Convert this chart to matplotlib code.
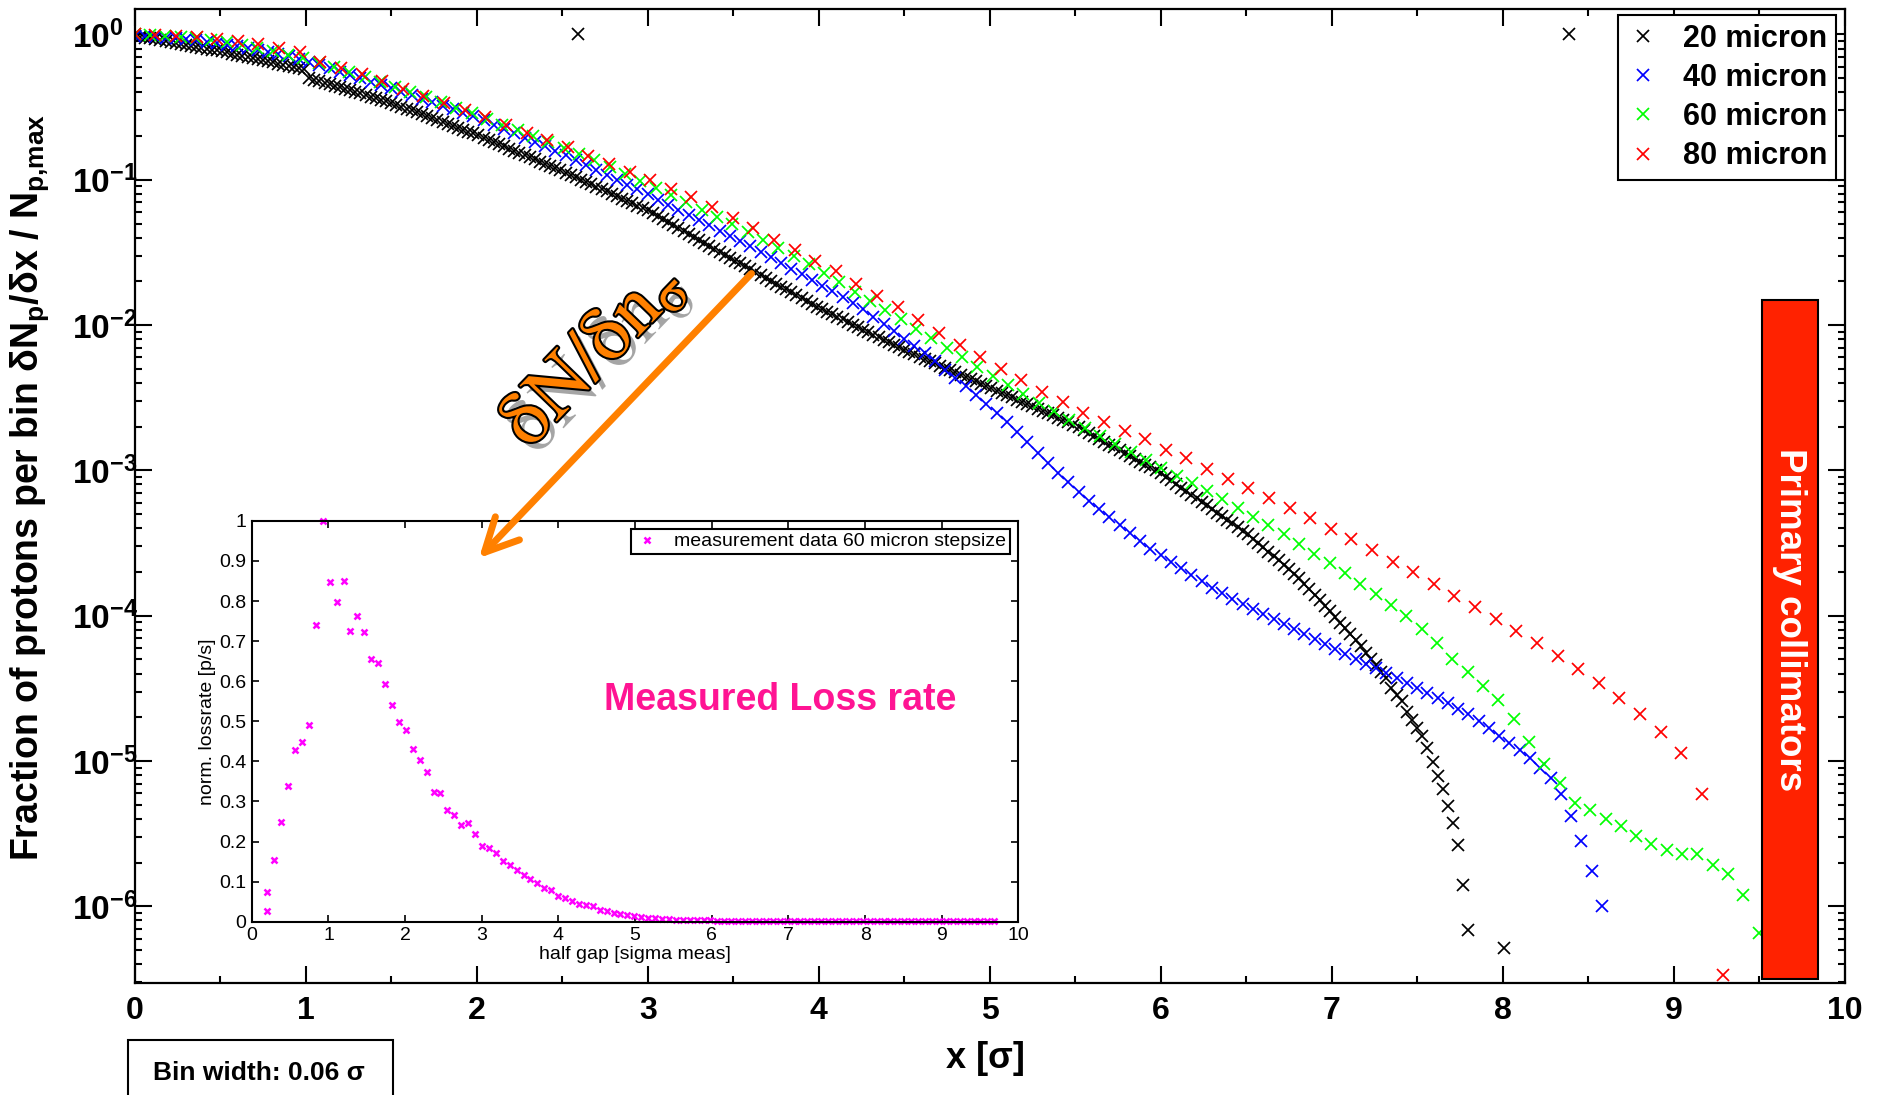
import numpy as np
import matplotlib
matplotlib.use('Agg')
import matplotlib.pyplot as plt
import matplotlib.patheffects as pe
from matplotlib.patches import Rectangle, FancyArrowPatch
from matplotlib.ticker import MultipleLocator, LogLocator, NullFormatter, FuncFormatter

plt.rcParams['font.family'] = ['Liberation Sans', 'DejaVu Sans']
plt.rcParams['mathtext.fontset'] = 'custom'
plt.rcParams['mathtext.rm'] = 'Liberation Sans'
plt.rcParams['mathtext.bf'] = 'Liberation Sans:bold'
plt.rcParams['mathtext.it'] = 'Liberation Sans:italic'

# bin steps (in sigma) of the four scans
step_20, step_40, step_60, step_80 = 0.03, 0.06, 0.0896, 0.1206

# log10 of the normalised bin content
log_20 = [
    -0.010, -0.016, -0.021, -0.027, -0.033, -0.039, -0.045, -0.051, -0.058, -0.064,
    -0.070, -0.077, -0.083, -0.090, -0.097, -0.104, -0.110, -0.117, -0.124, -0.131,
    -0.139, -0.146, -0.153, -0.161, -0.168, -0.176, -0.184, -0.192, -0.200, -0.208,
    -0.216, -0.224, -0.233, -0.241, -0.300, -0.311, -0.321, -0.332, -0.343, -0.353,
    -0.364, -0.374, -0.385, -0.396, -0.406, -0.417, -0.428, -0.438, -0.449, -0.459,
    -0.470, -0.483, -0.496, -0.510, -0.523, -0.536, -0.549, -0.562, -0.576, -0.589,
    -0.602, -0.615, -0.628, -0.642, -0.655, -0.668, -0.681, -0.695, -0.710, -0.725,
    -0.740, -0.755, -0.770, -0.785, -0.800, -0.815, -0.830, -0.845, -0.860, -0.875,
    -0.890, -0.905, -0.920, -0.935, -0.951, -0.967, -0.983, -1.000, -1.016, -1.032,
    -1.048, -1.064, -1.080, -1.097, -1.113, -1.129, -1.145, -1.161, -1.178, -1.194,
    -1.210, -1.230, -1.251, -1.271, -1.292, -1.312, -1.332, -1.353, -1.373, -1.394,
    -1.414, -1.434, -1.455, -1.475, -1.496, -1.516, -1.536, -1.557, -1.576, -1.596,
    -1.616, -1.636, -1.656, -1.675, -1.695, -1.715, -1.735, -1.755, -1.774, -1.794,
    -1.814, -1.834, -1.854, -1.873, -1.892, -1.909, -1.926, -1.944, -1.961, -1.979,
    -1.996, -2.013, -2.031, -2.048, -2.066, -2.083, -2.100, -2.118, -2.135, -2.153,
    -2.170, -2.186, -2.201, -2.217, -2.232, -2.248, -2.264, -2.279, -2.295, -2.310,
    -2.326, -2.342, -2.357, -2.373, -2.388, -2.404, -2.420, -2.435, -2.451, -2.466,
    -2.482, -2.498, -2.513, -2.529, -2.544, -2.560, -2.576, -2.591, -2.607, -2.622,
    -2.638, -2.654, -2.669, -2.685, -2.703, -2.723, -2.743, -2.763, -2.782, -2.802,
    -2.822, -2.842, -2.862, -2.881, -2.901, -2.921, -2.941, -2.961, -2.980, -3.000,
    -3.020, -3.045, -3.069, -3.094, -3.118, -3.143, -3.168, -3.192, -3.217, -3.241,
    -3.266, -3.291, -3.315, -3.340, -3.364, -3.389, -3.414, -3.440, -3.470, -3.500,
    -3.530, -3.560, -3.590, -3.620, -3.650, -3.680, -3.710, -3.743, -3.781, -3.819,
    -3.857, -3.895, -3.933, -3.971, -4.009, -4.047, -4.085, -4.125, -4.168, -4.212,
    -4.255, -4.299, -4.342, -4.386, -4.430, -4.500, -4.545, -4.590, -4.660, -4.720,
    -4.770, -4.830, -4.910, -5.010, -5.100, -5.190, -5.310, -5.430, -5.580, -5.850,
    -6.160,
]
extra_20_x = [2.59, 8.01, 8.39]
extra_20_log = [0.0, -6.29, 0.0]

log_40 = [
    -0.010, -0.013, -0.017, -0.021, -0.027, -0.034, -0.041, -0.050, -0.059, -0.069,
    -0.081, -0.093, -0.106, -0.120, -0.135, -0.151, -0.168, -0.188, -0.210, -0.233,
    -0.256, -0.279, -0.302, -0.324, -0.347, -0.370, -0.394, -0.418, -0.442, -0.466,
    -0.490, -0.514, -0.538, -0.562, -0.590, -0.620, -0.650, -0.680, -0.710, -0.740,
    -0.770, -0.800, -0.831, -0.865, -0.898, -0.932, -0.966, -0.999, -1.033, -1.066,
    -1.100, -1.136, -1.171, -1.207, -1.243, -1.278, -1.314, -1.350, -1.385, -1.421,
    -1.456, -1.494, -1.533, -1.572, -1.611, -1.650, -1.689, -1.728, -1.767, -1.806,
    -1.845, -1.890, -1.941, -1.992, -2.042, -2.093, -2.144, -2.195, -2.249, -2.306,
    -2.364, -2.421, -2.481, -2.543, -2.606, -2.668, -2.734, -2.807, -2.879, -2.952,
    -3.021, -3.083, -3.146, -3.208, -3.268, -3.323, -3.378, -3.433, -3.488, -3.540,
    -3.584, -3.628, -3.673, -3.717, -3.761, -3.806, -3.847, -3.882, -3.917, -3.952,
    -3.986, -4.021, -4.056, -4.091, -4.126, -4.161, -4.196, -4.231, -4.265, -4.298,
    -4.330, -4.363, -4.395, -4.428, -4.460, -4.496, -4.532, -4.568, -4.604, -4.640,
    -4.675, -4.725, -4.775, -4.825, -4.875, -4.925, -4.980, -5.050, -5.120, -5.230,
    -5.380, -5.550, -5.760, -6.000,
]

log_60 = [
    0.000, -0.003, -0.008, -0.016, -0.026, -0.039, -0.054, -0.072, -0.091, -0.114,
    -0.138, -0.165, -0.195, -0.227, -0.261, -0.294, -0.328, -0.361, -0.394, -0.430,
    -0.468, -0.506, -0.543, -0.582, -0.621, -0.660, -0.700, -0.740, -0.782, -0.823,
    -0.865, -0.910, -0.958, -1.006, -1.055, -1.104, -1.155, -1.205, -1.256, -1.306,
    -1.359, -1.415, -1.470, -1.526, -1.582, -1.641, -1.705, -1.769, -1.833, -1.897,
    -1.961, -2.027, -2.091, -2.156, -2.221, -2.286, -2.348, -2.410, -2.471, -2.533,
    -2.594, -2.650, -2.705, -2.761, -2.817, -2.873, -2.929, -2.984, -3.037, -3.089,
    -3.141, -3.194, -3.256, -3.318, -3.379, -3.441, -3.507, -3.573, -3.640, -3.705,
    -3.780, -3.854, -3.928, -4.003, -4.092, -4.190, -4.300, -4.386, -4.484, -4.580,
    -4.713, -4.867, -5.020, -5.153, -5.287, -5.340, -5.400, -5.450, -5.516, -5.573,
    -5.612, -5.642, -5.642, -5.715, -5.777, -5.922, -6.185,
]

log_80 = [
    0.000, -0.002, -0.010, -0.020, -0.030, -0.046, -0.064, -0.092, -0.122, -0.186,
    -0.232, -0.270, -0.321, -0.373, -0.420, -0.470, -0.518, -0.569, -0.626, -0.676,
    -0.724, -0.775, -0.837, -0.889, -0.947, -1.000, -1.061, -1.119, -1.188, -1.261,
    -1.329, -1.412, -1.486, -1.561, -1.628, -1.715, -1.800, -1.875, -1.967, -2.054,
    -2.139, -2.219, -2.299, -2.380, -2.460, -2.529, -2.602, -2.669, -2.730, -2.785,
    -2.857, -2.918, -2.987, -3.056, -3.118, -3.193, -3.258, -3.327, -3.400, -3.475,
    -3.549, -3.629, -3.702, -3.783, -3.863, -3.943, -4.026, -4.104, -4.186, -4.278,
    -4.370, -4.466, -4.569, -4.679, -4.800, -4.947, -5.227, -6.470,
]

series_labels = ['20 micron', '40 micron', '60 micron', '80 micron']
series_colors = ['black', 'blue', '#00ff00', 'red']

# inset: measured loss rate (60 micron steps)
meas_x0, meas_step = 0.204, 0.0903
meas_y = [
    0.075, 0.154, 0.249, 0.339, 0.428, 0.449, 0.491, 0.739, 1.000, 0.848,
    0.798, 0.849, 0.725, 0.763, 0.723, 0.656, 0.646, 0.593, 0.541, 0.499,
    0.479, 0.432, 0.403, 0.374, 0.324, 0.322, 0.279, 0.265, 0.242, 0.247,
    0.219, 0.188, 0.184, 0.172, 0.151, 0.141, 0.128, 0.116, 0.106, 0.097,
    0.083, 0.078, 0.065, 0.058, 0.052, 0.045, 0.041, 0.039, 0.028, 0.026,
    0.022, 0.019, 0.016, 0.014, 0.0125, 0.010, 0.008, 0.0067, 0.0058, 0.005,
    0.0045, 0.004, 0.0033, 0.003, 0.003, 0.0028, 0.0027, 0.0026, 0.0025, 0.0024,
    0.0023, 0.0022, 0.0021, 0.002, 0.002, 0.0019, 0.0018, 0.0018, 0.0017, 0.0016,
    0.0016, 0.0015, 0.0015, 0.0014, 0.0014, 0.0013, 0.0013, 0.0012, 0.0012, 0.0012,
    0.0011, 0.0011, 0.0011, 0.001, 0.001, 0.001, 0.001, 0.001, 0.001, 0.001,
    0.001, 0.001, 0.001, 0.001, 0.001, 0.001,
]
meas_extra_x = [0.204]
meas_extra_y = [0.027]

W, H = 1879, 1095
fig = plt.figure(figsize=(W / 100, H / 100), dpi=100)
ax = fig.add_axes([0.0717, 0.102, 0.910, 0.890])
ax.set_yscale('log')

steps = [step_20, step_40, step_60, step_80]
logs = [log_20, log_40, log_60, log_80]
for lg, st, col, lab in zip(logs, steps, series_colors, series_labels):
    xs = np.arange(len(lg)) * st
    ax.plot(xs, 10.0 ** np.array(lg), 'x', color=col, ms=8.5, mew=1.25, ls='none', label=lab)
ax.plot(extra_20_x, 10.0 ** np.array(extra_20_log), 'x', color='black', ms=8.5, mew=1.25, ls='none')

ax.set_xlim(0, 10)
ax.set_ylim(10 ** -6.53, 10 ** 0.177)
ax.xaxis.set_major_locator(MultipleLocator(1))
ax.xaxis.set_minor_locator(MultipleLocator(0.5))
ax.set_yticks([10.0 ** -k for k in range(7)])
ax.set_yticklabels([r'$\mathbf{10^{%d}}$' % (-k) for k in range(7)])
ax.yaxis.set_minor_locator(LogLocator(base=10, subs=np.arange(2, 10), numticks=30))
ax.yaxis.set_minor_formatter(NullFormatter())
ax.tick_params(which='both', direction='in', top=True, right=True, width=1.5)
ax.tick_params(which='major', length=12)
ax.tick_params(which='minor', length=5)
ax.tick_params(axis='x', labelsize=23, pad=9)
ax.tick_params(axis='y', labelsize=24, pad=45)
for lbl in ax.get_xticklabels():
    lbl.set_fontweight('bold')
for lbl in ax.get_yticklabels():
    lbl.set_horizontalalignment('left')
for s in ax.spines.values():
    s.set_linewidth(1.6)

leg = ax.legend(loc='upper right', bbox_to_anchor=(0.995, 0.994), borderaxespad=0,
                fancybox=False, edgecolor='black', framealpha=1,
                prop={'weight': 'bold', 'size': 22}, handlelength=1.0,
                handletextpad=0.8, borderpad=0.3, labelspacing=0.3)
leg.get_frame().set_linewidth(1.5)

# primary collimator marker
ax.add_patch(Rectangle((9.516, 10 ** -6.5), 0.328, 10 ** -1.83 - 10 ** -6.5,
                       facecolor='#ff2200', edgecolor='black', lw=1.5, zorder=4))
ax.text(9.68, 10 ** -4.03, 'Primary collimators', rotation=-90, color='white',
        fontweight='bold', fontsize=26.5, ha='center', va='center', zorder=5)

fig.text(985 / W, 1 - 1058 / H, 'x [σ]', fontsize=26, fontweight='bold', ha='center', va='center')
fig.text(30 / W, 1 - 487 / H,
         r'Fraction of protons per bin $\mathbf{\delta N_p/\delta x\ /\ N_{p{,}max}}$',
         rotation=90, fontsize=27, fontweight='bold', ha='center', va='center')

# inset with the measured loss rate
ax2 = fig.add_axes([0.134, 0.1583, 0.408, 0.366])
ax2.set_facecolor('white')
mx = meas_x0 + np.arange(len(meas_y)) * meas_step
ax2.plot(mx, meas_y, 'x', color='magenta', ms=5, mew=1.8, ls='none', clip_on=False,
         label='measurement data 60 micron stepsize')
ax2.plot(meas_extra_x, meas_extra_y, 'x', color='magenta', ms=5, mew=1.8, ls='none', clip_on=False)
ax2.set_xlim(0, 10)
ax2.set_ylim(0, 1)
ax2.xaxis.set_major_locator(MultipleLocator(1))
ax2.yaxis.set_major_locator(MultipleLocator(0.1))
ax2.yaxis.set_major_formatter(FuncFormatter(lambda v, p: '%g' % round(v, 1)))
ax2.tick_params(direction='in', top=True, right=True, length=5, width=1.2, labelsize=14, pad=4)
for s in ax2.spines.values():
    s.set_linewidth(1.5)
ax2.set_xlabel('half gap [sigma meas]', fontsize=14, labelpad=1)
ax2.set_ylabel('norm. lossrate [p/s]', fontsize=14, labelpad=2)
leg2 = ax2.legend(loc='upper right', bbox_to_anchor=(0.989, 0.98), borderaxespad=0,
                  fancybox=False, edgecolor='black', framealpha=1, fontsize=14,
                  handlelength=1.2, handletextpad=0.8, borderpad=0.2)
leg2.get_frame().set_linewidth(1.5)
ax2.text(6.89, 0.553, 'Measured Loss rate', color='#ff1493', fontsize=27,
         fontweight='bold', ha='center', va='center')

# orange arrow and label
arrow = FancyArrowPatch((751.5 / W, 1 - 273.5 / H), (479 / W, 1 - 558 / H),
                        transform=fig.transFigure, arrowstyle='->,head_length=1.2,head_width=0.6',
                        mutation_scale=20, color='#ff8000', lw=5, zorder=10,
                        shrinkA=0, shrinkB=0)
fig.add_artist(arrow)
fig.text(593 / W, 1 - 355 / H, r'$\mathrm{\delta N/\delta n_{\sigma}}$', rotation=46,
         fontsize=56, color='#ff8000', math_fontfamily='stix', ha='center', va='center',
         rotation_mode='anchor', zorder=10,
         path_effects=[pe.SimplePatchShadow(offset=(5, -5), shadow_rgbFace='0.3', alpha=0.5),
                       pe.withStroke(linewidth=3, foreground='black')])

# bin width box, cut by the bottom edge
fig.add_artist(Rectangle((128 / W, -0.05), 265 / W, 0.05 + 55 / H, transform=fig.transFigure,
                         fill=False, edgecolor='black', lw=1.5, clip_on=False))
fig.text(259 / W, 1 - 1073 / H, 'Bin width: 0.06 σ', fontsize=19, fontweight='bold',
         ha='center', va='center')

fig.savefig('out.png', dpi=100)
